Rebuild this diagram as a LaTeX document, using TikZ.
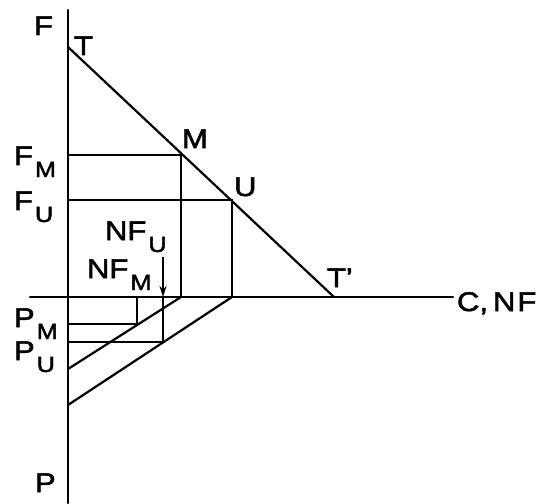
\documentclass[tikz,border=0pt]{standalone}
\usepackage{fontspec}
\setmainfont{Liberation Sans}[FakeStretch=1.15,FakeBold=2]
\usetikzlibrary{arrows.meta}
\newcommand\subtxt[1]{\hspace{2pt}\raisebox{-12pt}{\fontsize{22}{22}\selectfont #1}}
\begin{document}
\begin{tikzpicture}[x=1pt,y=-1pt,
  ln/.style={line width=2.2pt,line cap=round},
  lbl/.style={anchor=base west,inner sep=0pt,outer sep=0pt,font=\fontsize{27}{27}\selectfont}]
\useasboundingbox (0,0) rectangle (559,503);
% key points
\coordinate (Ftop) at (68,10);
\coordinate (Pbot) at (68,503);
\coordinate (Xl) at (30,297);
\coordinate (Xr) at (453,297);
\coordinate (T) at (68,47);
\coordinate (M) at (181,155);
\coordinate (U) at (232,200);
\coordinate (Tp) at (334,297);
\coordinate (FM) at (68,155);
\coordinate (FU) at (68,200);
\coordinate (Mx) at (181,297);
\coordinate (Ux) at (232,297);
\coordinate (Ma) at (68,369);
\coordinate (Ua) at (68,405);
\coordinate (PMa) at (68,324);
\coordinate (PMb) at (137,324);
\coordinate (PMx) at (137,297);
\coordinate (PUa) at (68,342);
\coordinate (PUb) at (163,342);
\coordinate (PUx) at (163,297);
\coordinate (Arr) at (163,257);
% axes
\draw[ln] (Ftop) -- (Pbot);
\draw[ln] (Xl) -- (Xr);
% trade-off line
\draw[ln] (T) -- (Tp);
% upper projections
\draw[ln] (FM) -- (M) -- (Mx);
\draw[ln] (FU) -- (U) -- (Ux);
% lower diagonals
\draw[ln] (Mx) -- (Ma);
\draw[ln] (Ux) -- (Ua);
% P levels
\draw[ln] (PMa) -- (PMb) -- (PMx);
\draw[ln] (PUa) -- (PUb) -- (PUx);
% arrow
\draw[line width=1.8pt,-{Stealth[length=11pt,width=7pt]}] (Arr) -- (PUx);
% labels
\node[lbl] (lF) at (34,35) {F};
\node[lbl] (lT) at (74,55) {T};
\node[lbl] (lM) at (182,148) {M};
\node[lbl] (lU) at (234,196) {U};
\node[lbl] (lTp) at (327,287) {T’};
\node[lbl] (lFM) at (14,165) {F\subtxt{M}};
\node[lbl] (lFU) at (14,210) {F\subtxt{U}};
\node[lbl] (lNFU) at (105,240) {NF\subtxt{U}};
\node[lbl] (lNFM) at (87,278) {NF\subtxt{M}};
\node[lbl] (lPM) at (14,327) {P\subtxt{M}};
\node[lbl] (lPU) at (14,360) {P\subtxt{U}};
\node[lbl] (lP) at (35,492) {P};
\node[lbl] (lC) at (457,311) {C,\hspace{5pt}N\hspace{2pt}F};
\end{tikzpicture}
\end{document}
